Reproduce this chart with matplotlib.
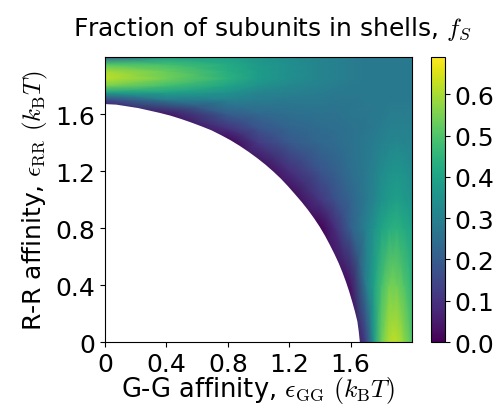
import numpy as np
import matplotlib
matplotlib.use('Agg')
import matplotlib.pyplot as plt

plt.rcParams['mathtext.fontset'] = 'cm'

# grid of affinities (kT), finer near the edges where the bands are
eps_gg = [0.0, 0.4, 0.8, 1.0, 1.2, 1.4, 1.5, 1.6, 1.7, 1.75, 1.8, 1.85, 1.9, 1.95, 2.0]
eps_rr = [0.0, 0.4, 0.8, 1.0, 1.2, 1.4, 1.5, 1.6, 1.7, 1.75, 1.8, 1.85, 1.9, 1.95, 2.0]

# fraction of subunits in shells, rows = eps_rr, cols = eps_gg
f_shell = [
    [0, 0, 0, 0, 0, 0, 0, 0, 0.13, 0.36, 0.53, 0.61, 0.62, 0.57, 0.50],
    [0, 0, 0, 0, 0, 0, 0, 0.04, 0.29, 0.39, 0.48, 0.54, 0.54, 0.50, 0.45],
    [0, 0, 0, 0, 0, 0, 0.09, 0.21, 0.30, 0.35, 0.40, 0.43, 0.44, 0.42, 0.40],
    [0, 0, 0, 0, 0, 0.11, 0.17, 0.22, 0.28, 0.31, 0.35, 0.37, 0.39, 0.37, 0.36],
    [0, 0, 0, 0, 0.09, 0.18, 0.21, 0.25, 0.28, 0.30, 0.33, 0.35, 0.36, 0.35, 0.33],
    [0, 0, 0, 0.12, 0.19, 0.23, 0.24, 0.26, 0.28, 0.29, 0.30, 0.31, 0.32, 0.31, 0.31],
    [0, 0, 0.10, 0.18, 0.22, 0.24, 0.25, 0.26, 0.27, 0.28, 0.29, 0.30, 0.30, 0.30, 0.30],
    [0, 0.04, 0.20, 0.23, 0.25, 0.26, 0.26, 0.27, 0.27, 0.28, 0.28, 0.29, 0.29, 0.29, 0.29],
    [0.15, 0.28, 0.30, 0.29, 0.28, 0.28, 0.27, 0.27, 0.28, 0.28, 0.28, 0.28, 0.28, 0.28, 0.28],
    [0.38, 0.39, 0.35, 0.31, 0.30, 0.29, 0.28, 0.28, 0.28, 0.28, 0.28, 0.28, 0.28, 0.28, 0.28],
    [0.55, 0.48, 0.40, 0.35, 0.32, 0.30, 0.29, 0.28, 0.28, 0.28, 0.28, 0.28, 0.28, 0.28, 0.28],
    [0.62, 0.54, 0.44, 0.38, 0.34, 0.31, 0.30, 0.29, 0.28, 0.28, 0.28, 0.28, 0.28, 0.28, 0.28],
    [0.60, 0.53, 0.43, 0.38, 0.34, 0.31, 0.30, 0.29, 0.28, 0.28, 0.28, 0.28, 0.28, 0.28, 0.28],
    [0.50, 0.48, 0.42, 0.37, 0.34, 0.31, 0.30, 0.29, 0.28, 0.28, 0.28, 0.28, 0.28, 0.28, 0.28],
    [0.22, 0.38, 0.39, 0.36, 0.33, 0.31, 0.30, 0.29, 0.28, 0.28, 0.28, 0.28, 0.28, 0.28, 0.28],
]

# edge of the no-shell region (white)
edge_gg = [0.0, 0.073, 0.145, 0.216, 0.287, 0.357, 0.426, 0.494, 0.561, 0.628, 0.693,
           0.756, 0.818, 0.877, 0.935, 0.991, 1.045, 1.097, 1.146, 1.193, 1.237,
           1.281, 1.323, 1.362, 1.399, 1.433, 1.464, 1.494, 1.522, 1.547, 1.570,
           1.591, 1.610, 1.628, 1.644, 1.653, 1.66]
edge_rr = [1.67, 1.666, 1.654, 1.642, 1.625, 1.608, 1.589, 1.566, 1.541, 1.514, 1.486,
           1.452, 1.416, 1.377, 1.335, 1.291, 1.245, 1.196, 1.146, 1.092, 1.038,
           0.983, 0.926, 0.868, 0.808, 0.746, 0.683, 0.619, 0.554, 0.488, 0.421,
           0.353, 0.284, 0.214, 0.144, 0.072, 0.0]

ticks = [0, 0.4, 0.8, 1.2, 1.6]
tick_labels = ['0', '0.4', '0.8', '1.2', '1.6']
cbar_ticks = [0.0, 0.1, 0.2, 0.3, 0.4, 0.5, 0.6]

fig = plt.figure(figsize=(4.94, 4.06), dpi=100)
ax = fig.add_axes([0.2126, 0.155, 0.6215, 0.702])
cax = fig.add_axes([0.8725, 0.155, 0.0285, 0.702])

mesh = ax.pcolormesh(eps_gg, eps_rr, np.array(f_shell), shading='gouraud',
                     cmap='viridis', vmin=0, vmax=0.69)
ax.fill(edge_gg + [0.0], edge_rr + [0.0], color='white', lw=0, zorder=2)

ax.set_xlim(0, 2.0)
ax.set_ylim(0, 2.0)
ax.set_xticks(ticks)
ax.set_xticklabels(tick_labels)
ax.set_yticks(ticks)
ax.set_yticklabels(tick_labels)
ax.tick_params(labelsize=18)
ax.set_xlabel(r'G-G affinity, $\epsilon_{\rm GG}$ $(k_{\rm B}T)$', fontsize=18.5, labelpad=-1.5)
ax.set_ylabel(r'R-R affinity, $\epsilon_{\rm RR}$ $(k_{\rm B}T)$', fontsize=18)
ax.set_title(r'Fraction of subunits in shells, $f_S$', fontsize=18, pad=16, x=0.545)

cb = fig.colorbar(mesh, cax=cax, ticks=cbar_ticks)
cb.ax.tick_params(labelsize=18)
cb.ax.set_yticklabels(['%.1f' % t for t in cbar_ticks])

fig.savefig('out.png', dpi=100)
